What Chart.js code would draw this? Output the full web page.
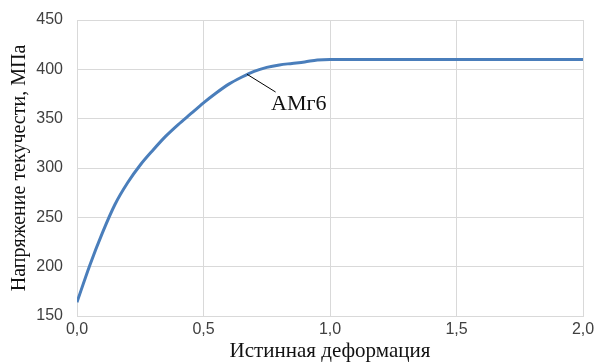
<!DOCTYPE html>
<html lang="ru">
<head>
<meta charset="utf-8">
<script src="https://cdn.jsdelivr.net/npm/chart.js@4"></script>
<style>
  html, body { margin: 0; padding: 0; background: #fff; }
  #wrap { width: 595px; height: 362px; }
</style>
</head>
<body>
<div id="wrap"><canvas id="flowChart" width="595" height="362"></canvas></div>
<script>
// кривая течения сплава АМг6
const strain = [0, 0.05, 0.10, 0.15, 0.20, 0.25, 0.30, 0.35, 0.40, 0.45, 0.50, 0.55, 0.60, 0.65, 0.70, 0.75, 0.80, 0.85, 0.90, 0.95, 1.00, 1.5, 2.0]
const stress = [164, 201, 234, 263, 285, 303, 318, 332, 344, 355, 366, 376, 385, 392, 398, 402, 404.5, 406, 407.5, 409.5, 410, 410, 410]

const xTicks = [0, 0.5, 1.0, 1.5, 2.0]
const yTicks = [150, 200, 250, 300, 350, 400, 450]

const seriesName = 'АМг6'
const xTitle = 'Истинная деформация'
const yTitle = 'Напряжение текучести, МПа'

const gridColor = '#d9d9d9'
const tickFont = { family: '"Liberation Sans", Arial, sans-serif', size: 16 }
const serif = '"Liberation Serif", "Times New Roman", serif'

// подпись кривой с выноской
const seriesLabel = {
  id: 'seriesLabel',
  afterDatasetsDraw(chart, args, opts) {
    const { ctx, scales: { x, y } } = chart
    const x0 = x.getPixelForValue(opts.from[0]), y0 = y.getPixelForValue(opts.from[1])
    const x1 = x.getPixelForValue(opts.to[0]), y1 = y.getPixelForValue(opts.to[1])
    ctx.save()
    ctx.strokeStyle = '#000'
    ctx.lineWidth = 1
    ctx.beginPath()
    ctx.moveTo(x0, y0)
    ctx.lineTo(x1, y1)
    ctx.stroke()
    ctx.fillStyle = '#111'
    ctx.font = '22px ' + serif
    ctx.textAlign = 'left'
    ctx.textBaseline = 'middle'
    ctx.fillText(opts.text, x.getPixelForValue(opts.at[0]), y.getPixelForValue(opts.at[1]))
    ctx.restore()
  }
}

new Chart(document.getElementById('flowChart'), {
  type: 'line',
  data: {
    datasets: [{
      label: seriesName,
      data: strain.map((s, i) => ({ x: s, y: stress[i] })),
      borderColor: '#4a7ebb',
      borderWidth: 3,
      pointRadius: 0,
      cubicInterpolationMode: 'monotone',
      fill: false
    }]
  },
  options: {
    responsive: false,
    animation: false,
    layout: { padding: { top: 20, right: 0, left: 0, bottom: 0 } },
    plugins: {
      legend: { display: false },
      tooltip: { enabled: false },
      seriesLabel: { text: seriesName, from: [0.672, 395], to: [0.785, 377], at: [0.767, 365] }
    },
    scales: {
      x: {
        type: 'linear',
        min: 0,
        max: 2,
        afterBuildTicks: axis => { axis.ticks = xTicks.map(v => ({ value: v })) },
        afterFit: axis => {
          axis.height = 46
          axis.paddingLeft = 0
          axis.paddingRight = 12
        },
        grid: { color: gridColor, drawTicks: false },
        border: { color: gridColor },
        ticks: {
          color: '#404040',
          font: tickFont,
          padding: 4,
          maxRotation: 0,
          callback: v => v.toFixed(1).replace('.', ',')
        },
        title: {
          display: true,
          text: xTitle,
          color: '#111',
          font: { family: serif, size: 21, lineHeight: 1 },
          padding: { top: 0, bottom: 0 }
        }
      },
      y: {
        min: 150,
        max: 450,
        afterBuildTicks: axis => { axis.ticks = yTicks.map(v => ({ value: v })) },
        afterFit: axis => {
          axis.width = 77
          axis.paddingTop = 0
          axis.paddingBottom = 0
        },
        grid: { color: gridColor, drawTicks: false },
        border: { color: gridColor },
        ticks: { color: '#404040', font: tickFont, padding: 14 },
        title: {
          display: true,
          text: yTitle,
          color: '#111',
          font: { family: serif, size: 20, lineHeight: 1 },
          padding: { top: 10, bottom: 0 }
        }
      }
    }
  },
  plugins: [seriesLabel]
})
</script>
</body>
</html>
